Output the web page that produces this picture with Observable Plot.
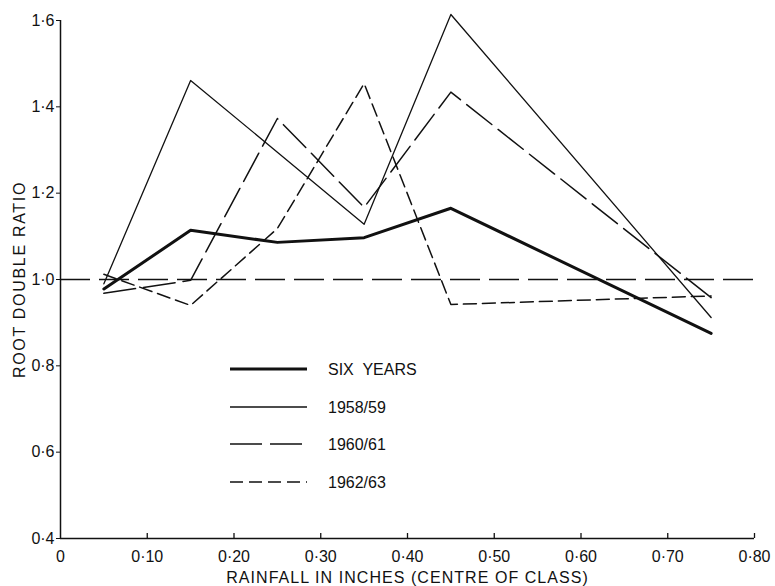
<!DOCTYPE html>
<html>
<head>
<meta charset="utf-8">
<script src="https://cdn.jsdelivr.net/npm/d3@7"></script>
<script src="https://cdn.jsdelivr.net/npm/@observablehq/plot@0.6"></script>
<style>
  html, body { margin: 0; padding: 0; background: #fff; }
  #chart { position: relative; width: 775px; height: 586px; }
  #chart svg [aria-label="x-axis label"] text { letter-spacing: 1.05px; }
  #chart svg [aria-label="y-axis label"] text { letter-spacing: 1.7px; }
</style>
</head>
<body>
<div id="chart"></div>
<script>
// Centre of rainfall class (inches)
const rainfall = [0.05, 0.15, 0.25, 0.35, 0.45, 0.75];
// Root double ratio per series
const sixYears = [0.978, 1.114, 1.086, 1.097, 1.165, 0.875];
const y1958 = [0.99, 1.461, 1.295, 1.128, 1.614, 0.912];
const y1960 = [0.968, 0.998, 1.373, 1.167, 1.434, 0.958];
const y1962 = [1.012, 0.940, 1.118, 1.454, 0.942, 0.962];

const seriesNames = ["SIX  YEARS", "1958/59", "1960/61", "1962/63"];
const seriesValues = [sixYears, y1958, y1960, y1962];
const xTicks = [0, 0.1, 0.2, 0.3, 0.4, 0.5, 0.6, 0.7, 0.8];
const yTicks = [0.4, 0.6, 0.8, 1.0, 1.2, 1.4, 1.6];
const referenceLevel = [1.0];

const styles = [
  {strokeWidth: 3, strokeDasharray: null},
  {strokeWidth: 1.3, strokeDasharray: null},
  {strokeWidth: 1.5, strokeDasharray: "32,8"},
  {strokeWidth: 1.5, strokeDasharray: "13,6"}
];

const rows = seriesNames.map((name, i) => rainfall.map((x, j) => ({series: name, x, y: seriesValues[i][j]})));

const fmtX = d => d === 0 ? "0" : d3.format(".2f")(d).replace(".", "\u00b7");
const fmtY = d => d3.format(".1f")(d).replace(".", "\u00b7");

const W = 775, H = 586;
const mTop = 20, mBottom = 48, mLeft = 60, mRight = 21;

const chart = Plot.plot({
  width: W,
  height: H,
  marginTop: mTop,
  marginBottom: mBottom,
  marginLeft: mLeft,
  marginRight: mRight,
  style: {fontFamily: "Liberation Sans, Arial, sans-serif", fontSize: "16px", color: "#111", background: "#fff"},
  x: {domain: [0, 0.8]},
  y: {domain: [0.4, 1.6]},
  marks: [
    Plot.axisX(xTicks, {
      tickFormat: fmtX, tickSize: 0, tickPadding: 12,
      label: "RAINFALL IN INCHES (CENTRE OF CLASS)", labelAnchor: "center", labelOffset: 44, labelArrow: "none",
      fontSize: 16
    }),
    Plot.axisY(yTicks, {
      tickFormat: fmtY, tickSize: 4, tickPadding: 2,
      label: "ROOT DOUBLE RATIO", labelAnchor: "center", labelOffset: 47, labelArrow: "none",
      fontSize: 16
    }),
    Plot.ruleX(xTicks.slice(1), {stroke: "#111", strokeWidth: 1.3, insetTop: H - mTop - mBottom - 5}),
    Plot.ruleY([0.4], {stroke: "#111", strokeWidth: 1.5}),
    Plot.ruleX([0], {stroke: "#111", strokeWidth: 1.5}),
    Plot.ruleY(referenceLevel, {stroke: "#111", strokeWidth: 1.3, strokeDasharray: "30,9"}),
    ...rows.map((r, i) => Plot.line(r, {
      x: "x", y: "y", stroke: "#111",
      strokeWidth: styles[i].strokeWidth,
      strokeDasharray: styles[i].strokeDasharray,
      strokeLinejoin: "round", strokeLinecap: "round"
    }))
  ]
});

document.getElementById("chart").appendChild(chart);

// Legend inside the plot area
const svg = d3.select(chart);
const legend = svg.append("g")
  .attr("font-family", "Liberation Sans, Arial, sans-serif")
  .attr("font-size", 16)
  .attr("text-anchor", "start")
  .attr("fill", "#111");
const legendY = [369, 407, 444, 482];
seriesNames.forEach((name, i) => {
  legend.append("line")
    .attr("x1", 230).attr("x2", 307)
    .attr("y1", legendY[i]).attr("y2", legendY[i])
    .attr("stroke", "#111")
    .attr("stroke-width", styles[i].strokeWidth)
    .attr("stroke-dasharray", styles[i].strokeDasharray);
  legend.append("text")
    .attr("x", 328).attr("y", legendY[i])
    .attr("dy", "0.35em")
    .attr("text-anchor", "start")
    .style("white-space", "pre")
    .text(name);
});
</script>
</body>
</html>
